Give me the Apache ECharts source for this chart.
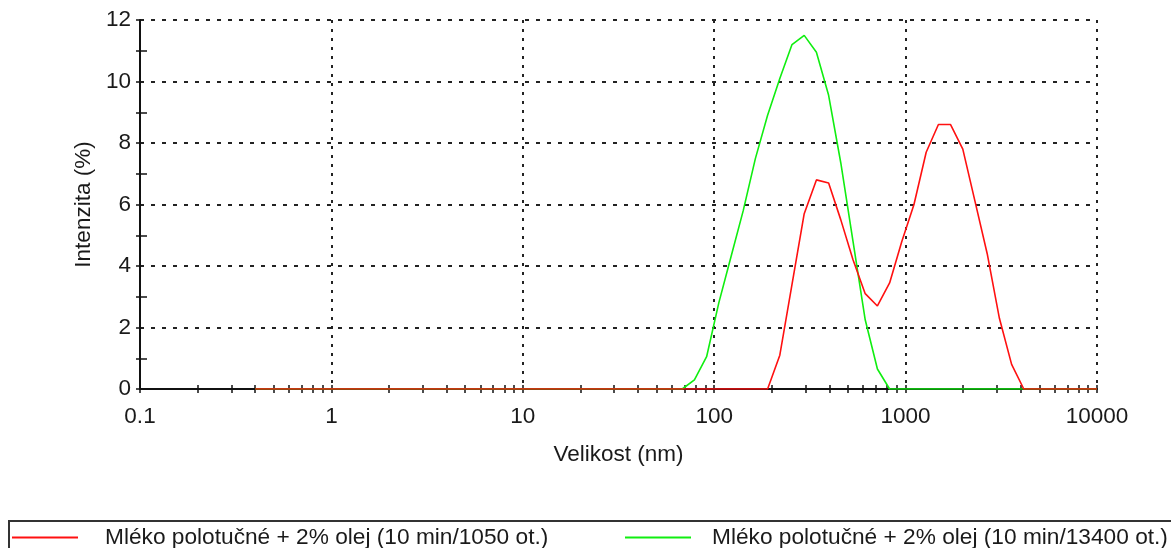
<!DOCTYPE html>
<html>
<head>
<meta charset="utf-8">
<script src="https://cdn.jsdelivr.net/npm/echarts@6/dist/echarts.min.js"></script>
<style>
  html, body { margin: 0; padding: 0; background: #fff; }
  #chart { width: 1171px; height: 548px; }
</style>
</head>
<body>
<div id="chart"></div>
<script>
// Size classes (nm)
const sizes = [0.4, 0.4632, 0.5365, 0.6213, 0.7195, 0.8332, 0.9649, 1.117, 1.294, 1.499,
  1.736, 2.01, 2.328, 2.696, 3.122, 3.615, 4.187, 4.849, 5.615, 6.503,
  7.531, 8.721, 10.1, 11.7, 13.54, 15.69, 18.17, 21.04, 24.36, 28.21,
  32.67, 37.84, 43.82, 50.75, 58.77, 68.06, 78.82, 91.28, 105.7, 122.4,
  141.8, 164.2, 190.1, 220.2, 255, 295.3, 342, 396.1, 458.7, 531.2,
  615.1, 712.4, 825, 955.4, 1106, 1281, 1484, 1718, 1990, 2305,
  2669, 3091, 3580, 4145, 4801, 5560, 6439, 7456, 8635, 10000];

// Intensity (%) – 10 min / 1050 ot.
const redValues = [0, 0, 0, 0, 0, 0, 0, 0, 0, 0,
  0, 0, 0, 0, 0, 0, 0, 0, 0, 0,
  0, 0, 0, 0, 0, 0, 0, 0, 0, 0,
  0, 0, 0, 0, 0, 0, 0, 0, 0, 0,
  0, 0, 0, 1.1, 3.4, 5.7, 6.8, 6.7, 5.5, 4.2,
  3.1, 2.7, 3.45, 4.8, 6.0, 7.7, 8.6, 8.6, 7.8, 6.1,
  4.4, 2.3, 0.8, 0, 0, 0, 0, 0, 0, 0];

// Intensity (%) – 10 min / 13400 ot.
const greenValues = [0, 0, 0, 0, 0, 0, 0, 0, 0, 0,
  0, 0, 0, 0, 0, 0, 0, 0, 0, 0,
  0, 0, 0, 0, 0, 0, 0, 0, 0, 0,
  0, 0, 0, 0, 0, 0, 0.3, 1.05, 2.8, 4.3,
  5.8, 7.5, 8.9, 10.1, 11.2, 11.5, 10.95, 9.55, 7.35, 4.8,
  2.25, 0.65, 0, 0, 0, 0, 0, 0, 0, 0,
  0, 0, 0, 0, 0, 0, 0, 0, 0, 0];

const seriesNames = ['Mléko polotučné + 2% olej (10 min/1050 ot.)', 'Mléko polotučné + 2% olej (10 min/13400 ot.)'];
const decades = [0.1, 1, 10, 100, 1000];
const decadeMultipliers = [1, 2, 3, 4, 5, 6, 7, 8, 9];
const xTickLabels = ['0.1', '1', '10', '100', '1000', '10000'];
const yMinorTicks = [1, 3, 5, 7, 9, 11];

const minorXTicks = [];
decades.forEach(d => decadeMultipliers.forEach(m => minorXTicks.push(+(d * m).toPrecision(6))));
minorXTicks.push(10000);

const FONT = "'Liberation Sans', Arial, sans-serif";
const TXT = '#1a1a1a';

const chart = echarts.init(document.getElementById('chart'), null, { renderer: 'canvas' });

function fmtX(v) {
  const lg = Math.round(Math.log10(v)) + 1;
  return xTickLabels[lg] !== undefined ? xTickLabels[lg] : String(v);
}

const baseLog = { type: 'log', logBase: 10, min: 0.1, max: 10000, gridIndex: 0, position: 'bottom' };
const tickStyle = { color: '#111', width: 1.5 };

chart.setOption({
  animation: false,
  backgroundColor: '#fff',
  grid: { left: 140, top: 20, width: 957, height: 369 },
  xAxis: [
    Object.assign({}, baseLog, {
      name: 'Velikost (nm)', nameLocation: 'middle', nameGap: 54,
      nameTextStyle: { fontFamily: FONT, fontSize: 22.5, color: TXT },
      axisLine: { show: true, lineStyle: { color: '#111', width: 2 } },
      axisTick: { show: false },
      axisLabel: { fontFamily: FONT, fontSize: 22.5, color: TXT, margin: 16, formatter: fmtX },
      splitLine: { show: true, lineStyle: { color: '#222', width: 2, type: [3, 6] } }
    }),
    Object.assign({}, baseLog, {
      axisLine: { show: false }, axisLabel: { show: false }, splitLine: { show: false },
      axisTick: { show: true, inside: true, length: 4, customValues: minorXTicks, lineStyle: tickStyle }
    }),
    Object.assign({}, baseLog, {
      axisLine: { show: false }, axisLabel: { show: false }, splitLine: { show: false },
      axisTick: { show: true, inside: false, length: 4, customValues: minorXTicks, lineStyle: tickStyle }
    })
  ],
  yAxis: [
    {
      type: 'value', min: 0, max: 12, interval: 2, position: 'left',
      name: 'Intenzita (%)', nameLocation: 'middle', nameGap: 44,
      nameTextStyle: { fontFamily: FONT, fontSize: 22.5, color: TXT },
      axisLine: { show: true, lineStyle: { color: '#111', width: 2 } },
      axisTick: { show: true, inside: false, length: 4, lineStyle: tickStyle },
      minorTick: { show: true, splitNumber: 2, length: 4, lineStyle: tickStyle },
      axisLabel: { fontFamily: FONT, fontSize: 22.5, color: TXT, margin: 9 },
      splitLine: { show: true, lineStyle: { color: '#222', width: 2, type: [4, 7] } }
    },
    {
      type: 'value', min: 0, max: 12, interval: 1, position: 'left',
      axisLine: { show: false }, axisLabel: { show: false }, splitLine: { show: false },
      axisTick: { show: true, inside: true, length: 7, customValues: yMinorTicks, lineStyle: tickStyle }
    }
  ],
  legend: [
    {
      data: [seriesNames[0]], left: 12, top: 526, padding: 0,
      icon: 'rect', itemWidth: 66, itemHeight: 2,
      textStyle: { fontFamily: FONT, fontSize: 22.7, color: TXT, padding: [0, 0, 0, 22] }
    },
    {
      data: [seriesNames[1]], left: 625, top: 526, padding: 0,
      icon: 'rect', itemWidth: 66, itemHeight: 2,
      textStyle: { fontFamily: FONT, fontSize: 22.7, color: TXT, padding: [0, 0, 0, 16] }
    }
  ],
  graphic: [
    {
      type: 'rect', z: 100,
      shape: { x: 9, y: 521, width: 1200, height: 60 },
      style: { fill: null, stroke: '#333', lineWidth: 2 }
    }
  ],
  series: [
    {
      name: seriesNames[1], type: 'line', xAxisIndex: 0, yAxisIndex: 0,
      symbol: 'none', color: '#10ee10',
      lineStyle: { color: '#10ee10', width: 1.6 },
      data: sizes.map((s, i) => [s, greenValues[i]])
    },
    {
      name: seriesNames[0], type: 'line', xAxisIndex: 0, yAxisIndex: 0,
      symbol: 'none', color: '#ff1010',
      lineStyle: { color: '#ff1010', width: 1.6 },
      data: sizes.map((s, i) => [s, redValues[i]])
    }
  ]
});
</script>
</body>
</html>
